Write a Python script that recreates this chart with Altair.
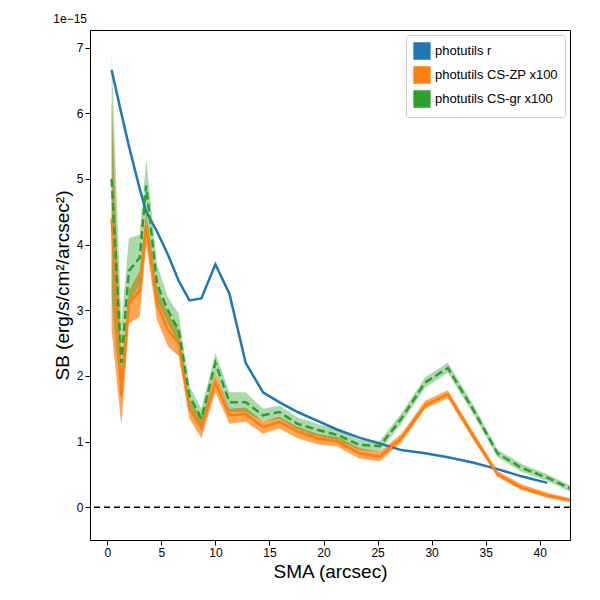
import pandas as pd
import altair as alt

# SMA in arcsec
sma = [0.4, 1.3, 2.0, 3.0, 3.6, 4.6, 5.6, 6.6, 7.6, 8.7, 10.0, 11.3, 12.8, 14.4, 15.9,
       17.6, 19.4, 21.3, 23.3, 25.2, 27.2, 29.4, 31.5, 33.8, 36.1, 38.3, 40.7, 43.0]

# surface brightness, units of 1e-15
sb_r = [6.66, 6.0, 5.5, 4.85, 4.5, 4.2, 3.85, 3.45, 3.15, 3.18, 3.7, 3.25, 2.2, 1.75, 1.6,
        1.45, 1.32, 1.18, 1.06, 0.97, 0.87, 0.82, 0.76, 0.68, 0.58, 0.47, 0.37, None]
sb_zp = [4.4, 1.7, 3.1, 3.3, 4.3, 3.1, 2.7, 2.5, 1.5, 1.2, 1.9, 1.4, 1.42, 1.22, 1.3,
         1.15, 1.05, 1.0, 0.82, 0.77, 1.05, 1.55, 1.72, 1.1, 0.5, 0.3, 0.18, 0.1]
zp_lo = [2.7, 1.25, 2.8, 2.9, 4.0, 2.85, 2.45, 2.3, 1.35, 1.05, 1.75, 1.27, 1.3, 1.12, 1.2,
         1.05, 0.96, 0.92, 0.74, 0.7, 0.98, 1.5, 1.66, 1.04, 0.46, 0.26, 0.14, 0.07]
zp_hi = [6.2, 2.1, 3.3, 3.6, 4.5, 3.35, 2.95, 2.7, 1.65, 1.35, 2.05, 1.5, 1.52, 1.3, 1.38,
         1.23, 1.12, 1.07, 0.9, 0.85, 1.12, 1.62, 1.78, 1.16, 0.55, 0.35, 0.22, 0.13]
sb_gr = [5.0, 2.2, 3.6, 3.8, 4.9, 3.4, 3.0, 2.7, 1.7, 1.35, 2.2, 1.6, 1.6, 1.4, 1.45,
         1.27, 1.18, 1.1, 0.95, 0.93, 1.35, 1.9, 2.12, 1.5, 0.82, 0.6, 0.45, 0.27]
gr_lo = [3.2, 1.6, 3.1, 3.4, 4.4, 3.15, 2.8, 2.5, 1.55, 1.2, 2.05, 1.45, 1.45, 1.3, 1.35,
         1.18, 1.08, 1.02, 0.87, 0.85, 1.27, 1.82, 2.05, 1.43, 0.76, 0.54, 0.4, 0.22]
gr_hi = [6.9, 2.8, 4.1, 4.15, 5.3, 3.7, 3.2, 2.95, 1.85, 1.5, 2.35, 1.75, 1.75, 1.5, 1.55,
         1.37, 1.27, 1.18, 1.03, 1.01, 1.43, 1.98, 2.2, 1.58, 0.88, 0.66, 0.5, 0.32]

names = ["photutils r", "photutils CS-ZP x100", "photutils CS-gr x100"]
colors = ["#1f77b4", "#ff7f0e", "#2ca02c"]

rows = []
for i, x in enumerate(sma):
    rows.append({"sma": x, "series": names[0], "sb": sb_r[i], "lo": sb_r[i], "hi": sb_r[i]})
    rows.append({"sma": x, "series": names[1], "sb": sb_zp[i], "lo": zp_lo[i], "hi": zp_hi[i]})
    rows.append({"sma": x, "series": names[2], "sb": sb_gr[i], "lo": gr_lo[i], "hi": gr_hi[i]})
data = pd.DataFrame(rows).dropna()

xscale = alt.Scale(domain=[-1.6, 42.8], nice=False)
yscale = alt.Scale(domain=[-0.5, 7.27], nice=False)
cscale = alt.Scale(domain=names, range=colors)

base = alt.Chart(data)

bands = base.mark_area(clip=True).encode(
    x=alt.X("sma:Q", scale=xscale,
            axis=alt.Axis(values=[0, 5, 10, 15, 20, 25, 30, 35, 40], grid=False,
                          format="d", title="SMA (arcsec)")),
    y=alt.Y("lo:Q", scale=yscale,
            axis=alt.Axis(values=[0, 1, 2, 3, 4, 5, 6, 7], grid=False, format="d",
                          title="SB (erg/s/cm²/arcsec²)")),
    y2="hi:Q",
    color=alt.Color("series:N", scale=cscale, sort=names,
                    legend=alt.Legend(title=None, orient="top-right", symbolType="square",
                                      symbolSize=250, labelFontSize=13, fillColor="white",
                                      strokeColor="#cccccc", padding=7, cornerRadius=3,
                                      offset=5)),
    fillOpacity=alt.FillOpacity("series:N", sort=names,
                                scale=alt.Scale(domain=names, range=[1.0, 0.4, 0.4])),
)

lines_solid = base.transform_filter(alt.datum.series != names[2]).mark_line(
    clip=True, strokeWidth=2.5).encode(
    x="sma:Q", y="sb:Q", color=alt.Color("series:N", scale=cscale, legend=None),
    detail="series:N",
)
line_dash = base.transform_filter(alt.datum.series == names[2]).mark_line(
    clip=True, strokeWidth=2.5, strokeDash=[8, 4]).encode(
    x="sma:Q", y="sb:Q", color=alt.Color("series:N", scale=cscale, legend=None),
)
zero = alt.Chart(pd.DataFrame({"z": [0]})).mark_rule(
    color="black", strokeDash=[6, 4], strokeWidth=1.5).encode(y="z:Q")

chart = (bands + lines_solid + line_dash + zero).properties(
    width=480, height=510,
    title=alt.TitleParams("1e−15", anchor="start", fontSize=12, fontWeight="normal",
                          offset=4, dx=0),
    autosize=alt.AutoSizeParams(type="none"),
    padding={"left": 82, "top": 22, "right": 20, "bottom": 50},
).configure_axis(
    titleFontSize=19, titleFontWeight="normal", labelFontSize=12, domainColor="black",
    tickColor="black", labelColor="black", titleColor="black",
).configure_view(stroke="black").configure_title(color="black")

chart.save("out.html", embed_options={"renderer": "svg", "actions": False})
